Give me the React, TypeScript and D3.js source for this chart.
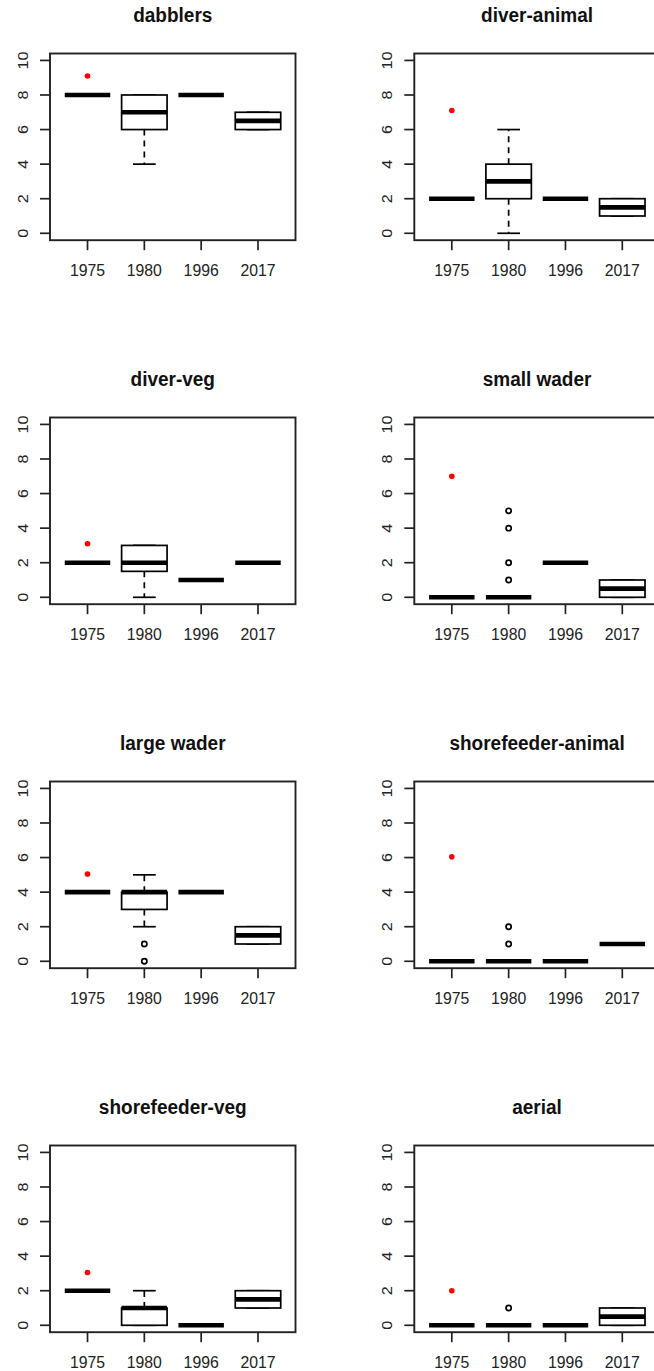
import React from 'react';
import * as d3 from 'd3';

const WIDTH = 654;
const HEIGHT = 1371;

const years = ['1975', '1980', '1996', '2017'];
const groups = [
  'dabblers', 'diver-animal', 'diver-veg', 'small wader',
  'large wader', 'shorefeeder-animal', 'shorefeeder-veg', 'aerial',
];

// [lower whisker, q1, median, q3, upper whisker] for each year
const dabblers = [[8, 8, 8, 8, 8], [4, 6, 7, 8, 8], [8, 8, 8, 8, 8], [6, 6, 6.5, 7, 7]];
const diverAnimal = [[2, 2, 2, 2, 2], [0, 2, 3, 4, 6], [2, 2, 2, 2, 2], [1, 1, 1.5, 2, 2]];
const diverVeg = [[2, 2, 2, 2, 2], [0, 1.5, 2, 3, 3], [1, 1, 1, 1, 1], [2, 2, 2, 2, 2]];
const smallWader = [[0, 0, 0, 0, 0], [0, 0, 0, 0, 0], [2, 2, 2, 2, 2], [0, 0, 0.5, 1, 1]];
const largeWader = [[4, 4, 4, 4, 4], [2, 3, 4, 4, 5], [4, 4, 4, 4, 4], [1, 1, 1.5, 2, 2]];
const shoreAnimal = [[0, 0, 0, 0, 0], [0, 0, 0, 0, 0], [0, 0, 0, 0, 0], [1, 1, 1, 1, 1]];
const shoreVeg = [[2, 2, 2, 2, 2], [0, 0, 1, 1, 2], [0, 0, 0, 0, 0], [1, 1, 1.5, 2, 2]];
const aerial = [[0, 0, 0, 0, 0], [0, 0, 0, 0, 0], [0, 0, 0, 0, 0], [0, 0, 0.5, 1, 1]];

const summaries = [dabblers, diverAnimal, diverVeg, smallWader, largeWader, shoreAnimal, shoreVeg, aerial];

// outliers, only 1980 has any
const outliers1980 = [[], [], [], [1, 2, 4, 5], [0, 1], [1, 2], [], [1]];

// red reference point drawn at 1975
const reference1975 = [9.1, 7.1, 3.1, 7.0, 5.05, 6.05, 3.05, 2.0];

const yTicks = [0, 2, 4, 6, 8, 10];

const COL_STEP = 364.3;
const ROW_STEP = 364;

const x = d3.scaleLinear().domain([0.34, 4.66]).range([50, 295.5]);
const y = d3.scaleLinear().domain([-0.4, 10.4]).range([240.2, 53.5]);
const bw = (x(2) - x(1)) * 0.8;

const font = '"Liberation Sans", Arial, Helvetica, sans-serif';

function Panel({ idx }: { idx: number }) {
  const col = idx % 2;
  const row = Math.floor(idx / 2);
  const stats = summaries[idx];
  const [x0, x1] = x.range();
  const [yb, yt] = y.range();
  return (
    <g transform={`translate(${col * COL_STEP},${row * ROW_STEP})`}>
      <text transform={`translate(${(x0 + x1) / 2},21.5) scale(1,1.08)`} textAnchor="middle" fontFamily={font}
        fontWeight="bold" fontSize={19} fill="#111">{groups[idx]}</text>

      {stats.map((s, i) => {
        const cx = x(i + 1);
        const [lo, q1, med, q3, hi] = s;
        return (
          <g key={i}>
            <line x1={cx} x2={cx} y1={y(q1)} y2={y(lo)} stroke="#000" strokeWidth={1.7} strokeDasharray="6 5" />
            <line x1={cx} x2={cx} y1={y(q3)} y2={y(hi)} stroke="#000" strokeWidth={1.7} strokeDasharray="6 5" />
            <line x1={cx - bw / 4} x2={cx + bw / 4} y1={y(lo)} y2={y(lo)} stroke="#000" strokeWidth={1.7} />
            <line x1={cx - bw / 4} x2={cx + bw / 4} y1={y(hi)} y2={y(hi)} stroke="#000" strokeWidth={1.7} />
            <rect x={cx - bw / 2} y={y(q3)} width={bw} height={y(q1) - y(q3)}
              fill="#fff" stroke="#000" strokeWidth={1.7} />
            <line x1={cx - bw / 2} x2={cx + bw / 2} y1={y(med)} y2={y(med)} stroke="#000" strokeWidth={4.6} />
          </g>
        );
      })}

      {outliers1980[idx].map((v, k) => (
        <circle key={k} cx={x(2)} cy={y(v)} r={2.6} fill="none" stroke="#000" strokeWidth={1.7} />
      ))}

      <circle cx={x(1)} cy={y(reference1975[idx])} r={2.8} fill="#ff0000" />

      <rect x={x0} y={yt} width={x1 - x0} height={yb - yt} fill="none" stroke="#222" strokeWidth={1.9} />

      {yTicks.map(t => (
        <g key={t}>
          <line x1={x0} x2={x0 - 10} y1={y(t)} y2={y(t)} stroke="#222" strokeWidth={1.7} />
          <text transform={`translate(27.5,${y(t)}) rotate(-90) scale(1.08,1)`} textAnchor="middle"
            fontFamily={font} fontSize={15} fill="#222">{t}</text>
        </g>
      ))}

      {years.map((yr, i) => (
        <g key={yr}>
          <line x1={x(i + 1)} x2={x(i + 1)} y1={yb} y2={yb + 10} stroke="#222" strokeWidth={1.7} />
          <text transform={`translate(${x(i + 1)},276) scale(1,1.1)`} textAnchor="middle"
            fontFamily={font} fontSize={15.8} fill="#222">{yr}</text>
        </g>
      ))}
    </g>
  );
}

export default function App() {
  return (
    <svg xmlns="http://www.w3.org/2000/svg" width={WIDTH} height={HEIGHT}
      style={{ position: 'absolute', left: 0, top: 0, background: '#fff' }}>
      <rect width={WIDTH} height={HEIGHT} fill="#fff" />
      {groups.map((g, i) => <Panel key={g} idx={i} />)}
    </svg>
  );
}
